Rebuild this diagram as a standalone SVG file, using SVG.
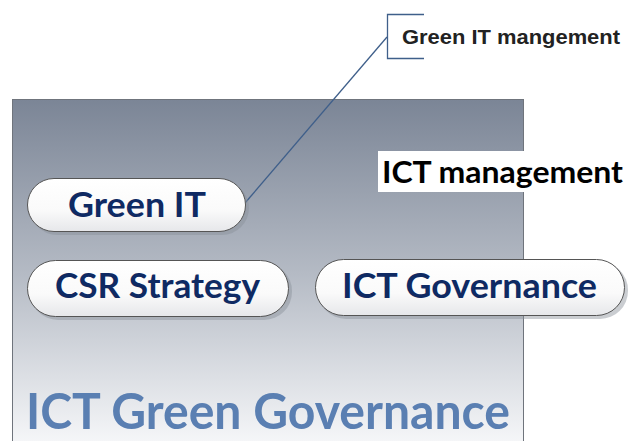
<svg xmlns="http://www.w3.org/2000/svg" width="631" height="441" viewBox="0 0 631 441">
<defs>
<linearGradient id="bg" x1="0" y1="0" x2="0" y2="1">
<stop offset="0" stop-color="#7b8596"/>
<stop offset="0.5" stop-color="#b4bac4"/>
<stop offset="1" stop-color="#f6f7f9"/>
</linearGradient>
<linearGradient id="pill" x1="0" y1="0" x2="0" y2="1">
<stop offset="0" stop-color="#ffffff"/>
<stop offset="0.6" stop-color="#fafafa"/>
<stop offset="1" stop-color="#e6e7ea"/>
</linearGradient>
</defs>
<style>
.pill{fill:url(#pill);stroke:#555;stroke-width:1}
.shadow{fill:#8a909a;opacity:0.45}
.pt{font-family:Lato,"Open Sans",sans-serif;font-weight:bold;fill:#0f2a63}
.conn{stroke:#3f5f8a;stroke-width:1.3;fill:none}
</style>
<rect id="frame" x="12.5" y="99.5" width="511" height="345" fill="url(#bg)" stroke="#6f747c" stroke-width="1"/>
<g id="connectors">
<line class="conn" x1="245" y1="203" x2="387" y2="37"/>
<path class="conn" d="M424 14.5 H387.5 V58.5 H424"/>
</g>
<g id="callout">
<text x="402" y="44" font-family="Liberation Sans,Arial,sans-serif" font-weight="bold" font-size="20.5" fill="#222" textLength="218" lengthAdjust="spacingAndGlyphs">Green IT mangement</text>
</g>
<g id="ict-management">
<rect x="378" y="151" width="253" height="41" fill="#fff"/>
<text x="382" y="183" font-family="Lato,'Open Sans',sans-serif" font-weight="bold" font-size="31" fill="#000" textLength="241" lengthAdjust="spacingAndGlyphs">ICT management</text>
</g>
<g id="green-it">
<rect class="shadow" x="30" y="181" width="219" height="54" rx="27"/>
<rect class="pill" x="27.5" y="178.5" width="218" height="53" rx="26.5"/>
<text class="pt" x="68" y="217" font-size="34" textLength="138" lengthAdjust="spacingAndGlyphs">Green IT</text>
</g>
<g id="csr-strategy">
<rect class="shadow" x="30" y="263" width="262" height="57" rx="28"/>
<rect class="pill" x="27.5" y="260.5" width="261" height="56" rx="28"/>
<text class="pt" x="55" y="298" font-size="34" textLength="205" lengthAdjust="spacingAndGlyphs">CSR Strategy</text>
</g>
<g id="ict-governance">
<rect class="shadow" x="318" y="262" width="310" height="57" rx="28"/>
<rect class="pill" x="315.5" y="259.5" width="309" height="56" rx="28"/>
<text class="pt" x="342" y="298" font-size="34" textLength="255" lengthAdjust="spacingAndGlyphs">ICT Governance</text>
</g>
<g id="title">
<text x="26" y="429" font-family="Lato,'Open Sans',sans-serif" font-weight="bold" font-size="49" fill="#5a7fb2" textLength="484" lengthAdjust="spacingAndGlyphs">ICT Green Governance</text>
</g>
</svg>
